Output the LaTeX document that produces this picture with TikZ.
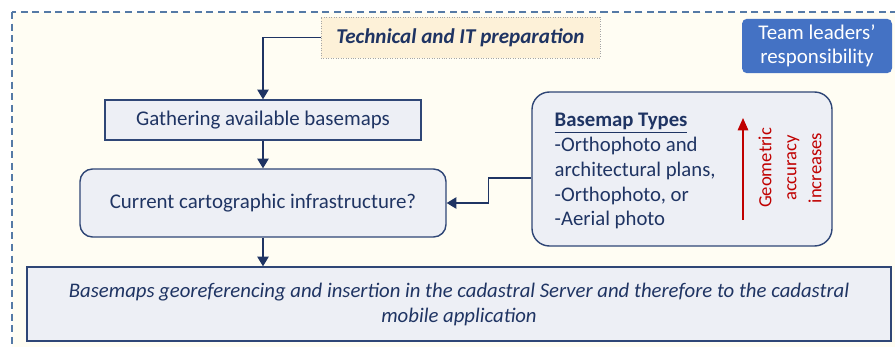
\documentclass[tikz,border=0pt]{standalone}
\usepackage{fontspec}
\setmainfont{Carlito}
\usetikzlibrary{arrows.meta}

\definecolor{navy}{HTML}{1F3463}
\definecolor{edge}{HTML}{2F4676}
\definecolor{boxfill}{HTML}{EDEFF5}
\definecolor{paper}{HTML}{FFFDF3}
\definecolor{frame}{HTML}{557AA6}
\definecolor{prepfill}{HTML}{FDF1D8}
\definecolor{teamblue}{HTML}{4472C4}
\definecolor{darkred}{HTML}{C00000}

\begin{document}
\begin{tikzpicture}[
  box/.style={draw=edge, fill=boxfill, line width=0.8pt, text=navy, font=\fontsize{11.9}{14}\selectfont},
  link/.style={draw=navy, line width=0.7pt, -{Triangle[width=6.5pt,length=5.5pt]}}]

\useasboundingbox (0,0) rectangle (17.9,6.92);
\clip (0,0) rectangle (17.9,6.92);

% dashed frame around the whole step
\draw [frame, line width=1.1pt, dash pattern=on 4pt off 2.6pt, fill=paper] (0.24,6.68) rectangle (18.4,-0.6);

\node (v1) at (9.21,6.17) [draw=gray!70, densely dotted, fill=prepfill, minimum width=5.58cm, minimum height=0.82cm, text=navy, font=\fontsize{12}{14}\selectfont\bfseries\itshape] {Technical and IT preparation};
\node (v2) at (16.34,6.0) [fill=teamblue, rounded corners=0.1cm, minimum width=3cm, minimum height=1.04cm, align=center, text=white, font=\fontsize{11.9}{14}\selectfont] {Team leaders'\\responsibility};

\node (v3) at (5.26,4.52) [box, minimum width=6.32cm, minimum height=0.8cm] {Gathering available basemaps};
\node (v4) at (5.26,2.86) [box, rounded corners=0.25cm, minimum width=7.32cm, minimum height=1.36cm] {Current cartographic infrastructure?};
\node (v5) at (13.64,3.54) [box, rounded corners=0.35cm, minimum width=6cm, minimum height=3.08cm] {};
\node (v6) at (9.18,0.84) [box, minimum width=17.28cm, minimum height=1.48cm, align=center, font=\fontsize{11.8}{14.2}\selectfont\itshape] {Basemaps georeferencing and insertion in the cadastral Server and therefore to the cadastral\\mobile application};

% basemap types list
\node (v7) at (10.97,3.5) [anchor=west, align=left, text=navy, font=\fontsize{11.8}{14.2}\selectfont] {\textbf{\underline{Basemap Types}}\\-Orthophoto and\\architectural plans,\\-Orthophoto, or\\-Aerial photo};
\coordinate (v8) at (14.86,2.52);
\coordinate (v9) at (14.86,4.56);
\draw [darkred, line width=0.7pt, -{Triangle[width=6pt,length=7pt]}] (v8) -- (v9);
\node (v10) at (15.8,3.56) [rotate=90, align=center, text=darkred, font=\fontsize{10.6}{14.2}\selectfont] {Geometric\\accuracy\\increases};

% connectors
\draw [link] (v1.west) -| (v3.north);
\draw [link] (v3.south) -- (v4.north);
\draw [link] (v4.south) -- (v4.south |- v6.north);
\draw [link] ([yshift=-0.18cm]v5.west) -- ++(-0.86,0) |- (v4.east);

\end{tikzpicture}
\end{document}
